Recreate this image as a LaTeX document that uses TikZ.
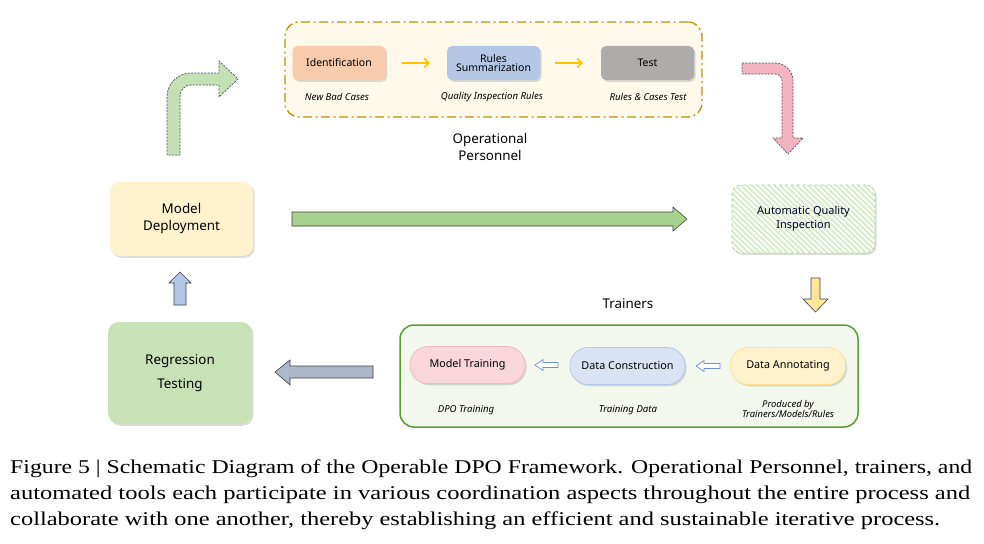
\documentclass[tikz,border=0pt]{standalone}
\usepackage{fontspec}
\setmainfont{Liberation Serif}
\newfontfamily\df{Noto Sans}
\usepackage{graphicx}
\usetikzlibrary{shadows,arrows.meta}
\definecolor{opfill}{HTML}{FEF9EA}
\definecolor{opborder}{HTML}{BF9000}
\definecolor{idfill}{HTML}{F8CBAD}
\definecolor{rsfill}{HTML}{B4C7E7}
\definecolor{tsfill}{HTML}{AEABAB}
\definecolor{mdfill}{HTML}{FFF2CC}
\definecolor{rgfill}{HTML}{C9E2B5}
\definecolor{trfill}{HTML}{F3F8EF}
\definecolor{trborder}{HTML}{5E9A3A}
\definecolor{mtfill}{HTML}{F9D6DC}
\definecolor{mtborder}{HTML}{F2B9C4}
\definecolor{dcfill}{HTML}{DAE3F3}
\definecolor{dcborder}{HTML}{B4C7E7}
\definecolor{dafill}{HTML}{FFF2CC}
\definecolor{daborder}{HTML}{FFE38F}
\definecolor{aqline}{HTML}{D9ECCB}
\definecolor{aqborder}{HTML}{A9D18E}
\definecolor{garrow}{HTML}{A9D18E}
\definecolor{greyarrow}{HTML}{ADB9CA}
\definecolor{uparrow}{HTML}{B4C7E7}
\definecolor{downarrow}{HTML}{FFE699}
\definecolor{bentgreen}{HTML}{C5E0B4}
\definecolor{bentpink}{HTML}{F4B3C0}
\definecolor{dashline}{HTML}{44546A}
\definecolor{gold}{HTML}{FFC000}
\definecolor{hollow}{HTML}{6F8FCF}
\newlength\capwa
\newlength\capwb
\newlength\capwc
\newcommand\capA{Figure 5 | Schematic Diagram of the Operable DPO Framework. Operational Personnel, trainers, and}
\newcommand\capB{automated tools each participate in various coordination aspects throughout the entire process and}
\newcommand\capC{collaborate with one another, thereby establishing an efficient and sustainable iterative process.}
\newcommand\capfs{\fontsize{19.5}{26}\selectfont}
\tikzset{
  shade/.style={drop shadow={opacity=0.28, shadow xshift=1.6pt, shadow yshift=-1.8pt}},
  smallbox/.style={shade, rounded corners=5pt, inner sep=0pt, minimum width=93pt, minimum height=34pt, align=center, font=\df\fontsize{10.5}{11.5}\selectfont},
  bigbox/.style={shade, rounded corners=10pt, inner sep=0pt, align=center, font=\df\fontsize{13.4}{17}\selectfont},
  pill/.style={shade, draw, line width=0.8pt, rounded corners=18pt, inner sep=0pt, minimum width=115pt, minimum height=37pt, font=\df\fontsize{10.8}{12}\selectfont},
  ital/.style={inner sep=0pt, align=center, font=\df\itshape\fontsize{9.6}{10.5}\selectfont},
  lbl/.style={inner sep=0pt, align=center, font=\df\fontsize{13.4}{17.5}\selectfont},
  blockarrow/.style={draw=black!75, line width=0.6pt, line join=miter},
  bentarrow/.style={draw=dashline, line width=0.7pt, dash pattern=on 2pt off 1.3pt},
  goldarr/.style={draw=gold, line width=1.6pt, -{Straight Barb[length=4.5pt,width=9pt]}},
  hollowarr/.style={draw=hollow, fill=white, line width=0.7pt},
}
\begin{document}
\settowidth\capwa{\capfs\capA}%
\settowidth\capwb{\capfs\capB}%
\settowidth\capwc{\capfs\capC}%
\pgfmathsetmacro\capsa{962/\capwa}%
\pgfmathsetmacro\capsb{960/\capwb}%
\pgfmathsetmacro\capsc{930/\capwc}%
\begin{tikzpicture}[x=1pt,y=-1pt]
\useasboundingbox (0,0) rectangle (984,543);
% ---------- Operational personnel frame ----------
\node[draw=opborder, fill=opfill, line width=1.3pt, rounded corners=14pt,
      dash pattern=on 9pt off 3.5pt on 2pt off 3.5pt,
      minimum width=417pt, minimum height=95pt, inner sep=0pt] (opbox) at (493.5,69.5) {};
\node[smallbox, fill=idfill] (id) at (339,63) {Identification};
\node[smallbox, fill=rsfill] (rs) at (493.5,63) {Rules\\[-2pt]Summarization};
\node[smallbox, fill=tsfill] (ts) at (647.5,63) {Test};
\draw[goldarr] ([xshift=16pt]id.east) -- ([xshift=-17pt]rs.west);
\draw[goldarr] ([xshift=15pt]rs.east) -- ([xshift=-18pt]ts.west);
\node[ital] (l1) at (337,97) {New Bad Cases};
\node[ital] (l2) at (492,97) {Quality Inspection Rules};
\node[ital] (l3) at (648,97) {Rules \& Cases Test};
\node[lbl] (oplbl) at (490,147) {Operational\\Personnel};
% ---------- bent arrows ----------
\path[bentarrow, fill=bentgreen] (167,155) -- (167,97) .. controls (167,83.7) and (177.7,73) .. (191,73)
  -- (219,73) -- (219,61) -- (238,79) -- (219,97) -- (219,85) -- (191,85)
  .. controls (184.9,85) and (180,89.9) .. (180,96) -- (180,155) -- cycle;
\path[bentarrow, fill=bentpink] (742,63) -- (775,63) .. controls (784.9,63) and (793,71.1) .. (793,81)
  -- (793,138) -- (803,138) -- (788,154) -- (773,138) -- (782,138) -- (782,81)
  .. controls (782,77.1) and (778.9,74) .. (775,74) -- (742,74) -- cycle;
% ---------- middle row ----------
\node[bigbox, fill=mdfill, minimum width=143pt, minimum height=74pt] (md) at (181.5,219) {Model\\Deployment};
\node[shade, fill=white, rounded corners=9pt, inner sep=0pt, minimum width=143pt, minimum height=68pt] (aqbg) at (803.5,219) {};
\begin{scope}
  \clip[rounded corners=9pt] (aqbg.north west) rectangle (aqbg.south east);
  \foreach \k in {0,...,40} {
    \draw[aqline, line width=2pt] ({732+\k*5.6-70},185) -- ({732+\k*5.6},253);
  }
\end{scope}
\node[rounded corners=9pt, inner sep=0pt, minimum width=143pt, minimum height=68pt,
      draw=aqborder, dashed, line width=0.6pt,
      align=center, font=\df\fontsize{11}{14}\selectfont, text=black!85!blue] (aq) at (803.5,219) {Automatic Quality\\Inspection};
\path[blockarrow, fill=garrow] (292,212) -- (673,212) -- (673,207) -- (687,219) -- (673,231) -- (673,226) -- (292,226) -- cycle;
% ---------- down / up arrows ----------
\path[blockarrow, fill=downarrow] (811,278) -- (820,278) -- (820,299) -- (828,299) -- (815.5,312) -- (803,299) -- (811,299) -- cycle;
\path[blockarrow, fill=uparrow] (174,305) -- (174,283) -- (169,283) -- (180,272) -- (191,283) -- (186,283) -- (186,305) -- cycle;
% ---------- bottom row ----------
\node[bigbox, fill=rgfill, minimum width=144pt, minimum height=102pt, rounded corners=11pt, font=\df\fontsize{13.4}{24}\selectfont] (rg) at (180,373) {Regression\\Testing};
\path[blockarrow, fill=greyarrow] (373,366) -- (290,366) -- (290,360) -- (275,372) -- (290,385) -- (290,378) -- (373,378) -- cycle;
\node[lbl] (trlbl) at (628,304) {Trainers};
\node[draw=trborder, fill=trfill, line width=1.5pt, rounded corners=14pt,
      minimum width=458pt, minimum height=102pt, inner sep=0pt] (trbox) at (629,376) {};
\node[pill, fill=mtfill, draw=mtborder] (mt) at (467.5,365) {Model Training};
\node[pill, fill=dcfill, draw=dcborder] (dc) at (627.5,366) {Data Construction};
\node[pill, fill=dafill, draw=daborder] (da) at (788,366) {Data Annotating};
\path[hollowarr] (535,365) -- (543,359.5) -- (543,362.5) -- (558,362.5) -- (558,367.5) -- (543,367.5) -- (543,370.5) -- cycle;
\path[hollowarr] (696,366) -- (704,360.5) -- (704,363.5) -- (720,363.5) -- (720,368.5) -- (704,368.5) -- (704,371.5) -- cycle;
\node[ital] (l4) at (466,410) {DPO Training};
\node[ital] (l5) at (628,410) {Training Data};
\node[ital, font=\df\itshape\fontsize{9.4}{10}\selectfont] (l6) at (788,409) {Produced by\\Trainers/Models/Rules};
% ---------- caption ----------
\node[anchor=base west, inner sep=0pt] (c1) at (10,473) {\scalebox{\capsa}[1]{\capfs\capA}};
\node[anchor=base west, inner sep=0pt] (c2) at (10,499) {\scalebox{\capsb}[1]{\capfs\capB}};
\node[anchor=base west, inner sep=0pt] (c3) at (10,525) {\scalebox{\capsc}[1]{\capfs\capC}};
\end{tikzpicture}
\end{document}
